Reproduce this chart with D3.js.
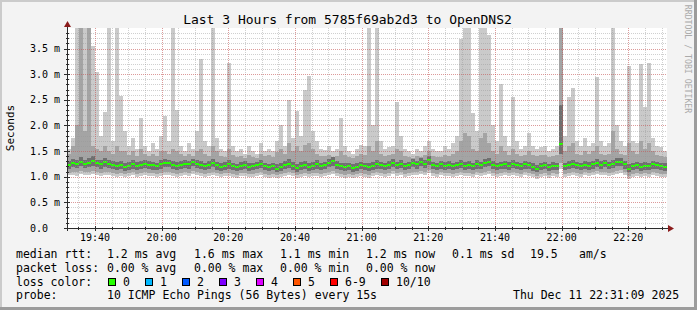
<!DOCTYPE html>
<html>
<head>
<meta charset="utf-8">
<script src="https://cdn.jsdelivr.net/npm/d3@7/dist/d3.min.js"></script>
<style>
  body { margin: 0; background: #f3f3f3; }
  svg { display: block; }
  text { font-family: "DejaVu Sans Mono", monospace; }
</style>
</head>
<body>
<div class="chart"></div>
<script>
// Smoke data, one value per 72 s step, in ms (p1 = fastest ping ... pMax = slowest)
var startTime = Date.UTC(2025, 11, 11, 19, 31, 36);
var stepSeconds = 72;

var pingMax = [
  1.55, 1.75, 4.5, 4.5, 4.5, 4.5, 3.55, 3.05, 1.8, 2.26,
  4.5, 1.7, 4.5, 2.57, 1.9, 1.6, 1.75, 1.55, 2.15, 1.6,
  1.5, 1.65, 1.55, 1.8, 2.19, 1.7, 4.5, 2.3, 1.6, 1.5,
  1.65, 1.55, 1.9, 3.3, 1.7, 1.6, 4.5, 1.75, 1.55, 1.5,
  3.22, 1.6, 1.5, 1.55, 1.45, 1.6, 1.5, 1.45, 1.65, 1.5,
  1.55, 1.5, 1.7, 2.0, 1.6, 2.5, 1.75, 2.29, 1.8, 2.7,
  2.96, 1.9, 1.7, 1.55, 1.52, 1.6, 1.5, 1.55, 2.15, 1.6,
  1.5, 1.45, 1.55, 1.62, 1.6, 4.5, 2.0, 4.5, 1.7, 1.55,
  1.58, 1.6, 2.46, 1.8, 1.55, 1.5, 1.45, 1.55, 1.5, 1.6,
  1.7, 1.55, 1.5, 1.5, 1.6, 1.55, 1.65, 1.8, 3.68, 4.5,
  4.5, 2.25, 1.9, 4.5, 4.5, 3.76, 2.0, 1.7, 2.8, 1.8,
  1.6, 2.56, 1.7, 1.55, 1.6, 1.85, 1.6, 1.55, 1.58, 1.6,
  1.5, 1.55, 1.6, 4.5, 1.8, 2.56, 2.73, 1.7, 1.6, 1.75,
  1.6, 1.65, 2.95, 1.7, 1.6, 1.65, 4.5, 2.0, 1.7, 1.6,
  3.16, 1.7, 1.65, 3.19, 2.35, 3.22, 1.75, 1.6, 1.58, 1.5
];
var pingHigh = [
  1.45, 1.6, 2.0, 4.5, 1.9, 4.5, 1.6, 1.55, 1.5, 1.6,
  1.5, 1.45, 1.6, 1.5, 1.5, 1.42, 1.5, 1.4, 1.55, 1.45,
  1.4, 1.45, 1.4, 1.5, 1.5, 1.45, 1.55, 1.5, 1.45, 1.4,
  1.45, 1.4, 1.5, 1.55, 1.45, 1.4, 1.6, 1.5, 1.4, 1.38,
  1.55, 1.42, 1.38, 1.4, 1.36, 1.42, 1.38, 1.36, 1.45, 1.4,
  1.42, 1.38, 1.48, 1.55, 1.45, 1.65, 1.5, 1.6, 1.5, 1.62,
  1.65, 1.55, 1.45, 1.4, 1.4, 1.42, 1.38, 1.4, 1.5, 1.42,
  1.38, 1.36, 1.4, 1.45, 1.42, 1.6, 1.5, 1.7, 1.45, 1.4,
  1.42, 1.45, 1.55, 1.5, 1.4, 1.38, 1.36, 1.4, 1.38, 1.42,
  1.5, 1.4, 1.38, 1.38, 1.42, 1.4, 1.45, 1.5, 1.7, 1.85,
  1.8, 1.55, 1.5, 1.75, 1.85, 1.65, 1.5, 1.45, 1.6, 1.5,
  1.42, 1.55, 1.45, 1.4, 1.42, 1.5, 1.42, 1.4, 1.42, 1.42,
  1.38, 1.4, 1.42, 4.5, 1.5, 1.6, 1.65, 1.45, 1.42, 1.5,
  1.45, 1.5, 1.6, 1.45, 1.42, 1.45, 1.9, 1.55, 1.45, 1.42,
  1.65, 1.5, 1.45, 1.7, 1.55, 1.65, 1.5, 1.42, 1.4, 1.38
];
var pingMidHigh = [
  1.3, 1.34, 1.33, 1.38, 1.32, 1.36, 1.4, 1.33, 1.32, 1.36,
  1.33, 1.3, 1.28, 1.3, 1.27, 1.29, 1.32, 1.28, 1.31, 1.33,
  1.3, 1.29, 1.27, 1.32, 1.35, 1.33, 1.3, 1.28, 1.3, 1.32,
  1.31, 1.35, 1.33, 1.3, 1.27, 1.3, 1.34, 1.29, 1.26, 1.28,
  1.32, 1.27, 1.25, 1.28, 1.3, 1.26, 1.27, 1.29, 1.32, 1.27,
  1.25, 1.27, 1.24, 1.27, 1.3, 1.34, 1.29, 1.25, 1.28, 1.31,
  1.27, 1.29, 1.32, 1.27, 1.29, 1.34, 1.38, 1.3, 1.27, 1.26,
  1.27, 1.25, 1.26, 1.29, 1.27, 1.26, 1.28, 1.32, 1.29, 1.27,
  1.3, 1.35, 1.29, 1.33, 1.27, 1.29, 1.34, 1.31, 1.36, 1.32,
  1.4, 1.29, 1.27, 1.31, 1.28, 1.3, 1.27, 1.29, 1.33, 1.29,
  1.31, 1.27, 1.32, 1.29, 1.34, 1.37, 1.3, 1.27, 1.29, 1.31,
  1.28, 1.32, 1.29, 1.27, 1.31, 1.29, 1.26, 1.23, 1.27, 1.29,
  1.25, 1.28, 1.27, 2.4, 1.27, 1.3, 1.33, 1.29, 1.27, 1.3,
  1.28, 1.31, 1.35, 1.3, 1.33, 1.29, 1.33, 1.36, 1.37, 1.31,
  1.24, 1.27, 1.29, 1.27, 1.28, 1.27, 1.31, 1.29, 1.27, 1.26
];
var medianRtt = [
  1.22, 1.26, 1.24, 1.28, 1.25, 1.27, 1.3, 1.26, 1.24, 1.28,
  1.25, 1.23, 1.2, 1.22, 1.19, 1.21, 1.24, 1.2, 1.22, 1.25,
  1.23, 1.22, 1.2, 1.24, 1.27, 1.26, 1.22, 1.2, 1.23, 1.25,
  1.24, 1.28, 1.25, 1.22, 1.2, 1.23, 1.26, 1.22, 1.19, 1.21,
  1.24, 1.2, 1.18, 1.21, 1.23, 1.19, 1.2, 1.22, 1.25, 1.2,
  1.18, 1.2, 1.16, 1.19, 1.22, 1.25, 1.21, 1.17, 1.2, 1.23,
  1.19, 1.21, 1.24, 1.2, 1.22, 1.26, 1.3, 1.23, 1.2, 1.18,
  1.2, 1.17, 1.19, 1.22, 1.2, 1.18, 1.21, 1.24, 1.22, 1.2,
  1.23, 1.27, 1.22, 1.25, 1.2, 1.22, 1.26, 1.24, 1.28, 1.25,
  1.32, 1.22, 1.2, 1.24, 1.21, 1.23, 1.2, 1.22, 1.25, 1.21,
  1.23, 1.2, 1.24, 1.22, 1.26, 1.29, 1.23, 1.2, 1.22, 1.24,
  1.21, 1.25, 1.22, 1.2, 1.24, 1.22, 1.19, 1.15, 1.2, 1.22,
  1.18, 1.21, 1.2, 1.64, 1.2, 1.22, 1.25, 1.22, 1.2, 1.23,
  1.21, 1.24, 1.27, 1.23, 1.26, 1.22, 1.25, 1.28, 1.29, 1.24,
  1.15, 1.2, 1.22, 1.19, 1.21, 1.2, 1.24, 1.22, 1.2, 1.19
];
var pingMidLow = [
  1.15, 1.18, 1.17, 1.2, 1.17, 1.19, 1.21, 1.18, 1.16, 1.19,
  1.17, 1.15, 1.13, 1.15, 1.12, 1.14, 1.16, 1.13, 1.15, 1.17,
  1.15, 1.14, 1.13, 1.16, 1.19, 1.18, 1.15, 1.13, 1.15, 1.17,
  1.16, 1.2, 1.17, 1.15, 1.13, 1.15, 1.18, 1.14, 1.12, 1.14,
  1.16, 1.13, 1.11, 1.14, 1.15, 1.12, 1.13, 1.15, 1.17, 1.13,
  1.11, 1.13, 1.1, 1.12, 1.15, 1.17, 1.14, 1.1, 1.13, 1.15,
  1.12, 1.14, 1.16, 1.13, 1.15, 1.18, 1.21, 1.15, 1.13, 1.11,
  1.13, 1.1, 1.12, 1.15, 1.13, 1.11, 1.14, 1.16, 1.15, 1.13,
  1.15, 1.19, 1.15, 1.17, 1.13, 1.15, 1.18, 1.16, 1.2, 1.17,
  1.22, 1.15, 1.13, 1.16, 1.14, 1.15, 1.13, 1.15, 1.17, 1.14,
  1.15, 1.13, 1.16, 1.15, 1.18, 1.2, 1.15, 1.13, 1.15, 1.16,
  1.14, 1.17, 1.15, 1.13, 1.16, 1.15, 1.12, 1.09, 1.13, 1.15,
  1.11, 1.14, 1.13, 1.45, 1.13, 1.15, 1.17, 1.15, 1.13, 1.16,
  1.14, 1.16, 1.19, 1.16, 1.18, 1.15, 1.17, 1.2, 1.21, 1.16,
  1.09, 1.13, 1.15, 1.12, 1.14, 1.13, 1.16, 1.15, 1.13, 1.12
];
var pingLow = [
  1.08, 1.1, 1.09, 1.11, 1.09, 1.1, 1.12, 1.1, 1.08, 1.1,
  1.09, 1.07, 1.06, 1.08, 1.05, 1.07, 1.09, 1.06, 1.08, 1.09,
  1.08, 1.07, 1.06, 1.08, 1.1, 1.1, 1.08, 1.06, 1.08, 1.09,
  1.08, 1.11, 1.09, 1.08, 1.06, 1.08, 1.1, 1.07, 1.05, 1.07,
  1.08, 1.06, 1.04, 1.07, 1.08, 1.05, 1.06, 1.08, 1.09, 1.06,
  1.04, 1.06, 1.03, 1.05, 1.08, 1.09, 1.07, 1.03, 1.06, 1.08,
  1.05, 1.07, 1.08, 1.06, 1.08, 1.1, 1.12, 1.08, 1.06, 1.04,
  1.06, 1.03, 1.05, 1.08, 1.06, 1.04, 1.07, 1.09, 1.08, 1.06,
  1.08, 1.11, 1.08, 1.1, 1.06, 1.08, 1.1, 1.09, 1.12, 1.1,
  1.13, 1.08, 1.06, 1.09, 1.07, 1.08, 1.06, 1.08, 1.1, 1.07,
  1.08, 1.06, 1.09, 1.08, 1.1, 1.12, 1.08, 1.06, 1.08, 1.09,
  1.07, 1.1, 1.08, 1.06, 1.09, 1.08, 1.05, 1.02, 1.06, 1.08,
  1.04, 1.07, 1.06, 1.26, 1.06, 1.08, 1.1, 1.08, 1.06, 1.09,
  1.07, 1.09, 1.11, 1.09, 1.1, 1.08, 1.1, 1.12, 1.13, 1.09,
  1.02, 1.06, 1.08, 1.05, 1.07, 1.06, 1.09, 1.08, 1.06, 1.05
];
var pingMin = [
  1.03, 1.04, 1.02, 1.05, 1.03, 1.04, 1.06, 1.04, 1.02, 1.04,
  1.03, 1.01, 1.0, 1.02, 0.99, 1.01, 1.03, 1.0, 1.02, 1.03,
  1.02, 1.01, 1.0, 1.02, 1.04, 1.04, 1.02, 1.0, 1.02, 1.03,
  1.02, 1.05, 1.03, 1.02, 1.0, 1.02, 1.04, 1.01, 0.99, 1.01,
  1.02, 1.0, 0.98, 1.01, 1.02, 0.99, 1.0, 1.02, 1.03, 1.0,
  0.98, 1.0, 0.97, 0.99, 1.02, 1.03, 1.01, 0.97, 1.0, 1.02,
  0.99, 1.01, 1.02, 1.0, 1.02, 1.04, 1.06, 1.02, 1.0, 0.98,
  1.0, 0.97, 0.99, 1.02, 1.0, 0.98, 1.01, 1.03, 1.02, 1.0,
  1.02, 1.05, 1.02, 1.04, 1.0, 1.02, 1.04, 1.03, 1.06, 1.04,
  1.07, 1.02, 1.0, 1.03, 1.01, 1.02, 1.0, 1.02, 1.04, 1.01,
  1.02, 1.0, 1.03, 1.02, 1.04, 1.06, 1.02, 1.0, 1.02, 1.03,
  1.01, 1.04, 1.02, 1.0, 1.03, 1.02, 0.99, 0.96, 1.0, 1.02,
  0.98, 1.01, 1.0, 1.15, 1.0, 1.02, 1.04, 1.02, 1.0, 1.03,
  1.01, 1.03, 1.05, 1.03, 1.04, 1.02, 1.04, 1.06, 1.07, 1.03,
  0.96, 1.0, 1.02, 0.99, 1.01, 1.0, 1.03, 1.02, 1.0, 0.99
];

// Legend content
var titleText = "Last 3 Hours from 5785f69ab2d3 to OpenDNS2";
var rttStats = ["1.2 ms avg", "1.6 ms max", "1.1 ms min", "1.2 ms now", "0.1 ms sd", "19.5", "am/s"];
var lossStats = ["0.00 % avg", "0.00 % max", "0.00 % min", "0.00 % now"];
var lossLabels = ["0", "1", "2", "3", "4", "5", "6-9", "10/10"];
var lossColors = ["#26ff00", "#00b8ff", "#0059ff", "#7e00ff", "#dd00ff", "#ff5500", "#ff0000", "#a10000"];
var probeText = "10 ICMP Echo Pings (56 Bytes) every 15s";
var stampText = "Thu Dec 11 22:31:09 2025";

// Set up chart
var svgWidth = 697;
var svgHeight = 310;
var plot = {left: 67, right: 667, top: 28, bottom: 228};

var svg = d3.select(".chart")
  .append("svg")
  .attr("width", svgWidth)
  .attr("height", svgHeight);

// frame
svg.append("rect").attr("width", svgWidth).attr("height", svgHeight).attr("fill", "#f3f3f3");
svg.append("rect").attr("x", 0).attr("y", 0).attr("width", svgWidth).attr("height", 2).attr("fill", "#cbcbcb");
svg.append("rect").attr("x", 0).attr("y", 0).attr("width", 2).attr("height", svgHeight).attr("fill", "#cbcbcb");
svg.append("rect").attr("x", 0).attr("y", svgHeight - 3).attr("width", svgWidth).attr("height", 3).attr("fill", "#9c9c9c");
svg.append("rect").attr("x", svgWidth - 3).attr("y", 0).attr("width", 3).attr("height", svgHeight).attr("fill", "#9c9c9c");

// canvas
svg.append("rect")
  .attr("x", plot.left).attr("y", plot.top)
  .attr("width", plot.right - plot.left).attr("height", plot.bottom - plot.top)
  .attr("fill", "#ffffff");

svg.append("clipPath").attr("id", "clip")
  .append("rect")
  .attr("x", plot.left).attr("y", plot.top)
  .attr("width", plot.right - plot.left).attr("height", plot.bottom - plot.top);

// scales
var x = d3.scaleUtc()
  .domain([new Date(startTime), new Date(startTime + medianRtt.length * stepSeconds * 1000)])
  .range([plot.left, plot.right]);
var y = d3.scaleLinear().domain([0, 3.9]).range([plot.bottom, plot.top]);

var steps = medianRtt.map(function(d, i) {
  return {
    t0: new Date(startTime + i * stepSeconds * 1000),
    t1: new Date(startTime + (i + 1) * stepSeconds * 1000),
    min: pingMin[i], low: pingLow[i], midLow: pingMidLow[i], median: d,
    midHigh: pingMidHigh[i], high: pingHigh[i], max: pingMax[i]
  };
});

var smoke = svg.append("g").attr("clip-path", "url(#clip)").attr("shape-rendering", "crispEdges");

// smoke bands, light outside to dark inside
var bands = [
  {lo: "min", hi: "max", color: "#cacaca"},
  {lo: "low", hi: "high", color: "#a4a4a4"},
  {lo: "midLow", hi: "midHigh", color: "#707070"}
];
bands.forEach(function(b) {
  smoke.append("g").selectAll("rect")
    .data(steps)
    .enter()
    .append("rect")
    .attr("x", function(d) { return Math.round(x(d.t0)); })
    .attr("width", function(d) { return Math.round(x(d.t1)) - Math.round(x(d.t0)); })
    .attr("y", function(d) { return y(d[b.hi]); })
    .attr("height", function(d) { return y(d[b.lo]) - y(d[b.hi]); })
    .attr("fill", b.color);
});

// median as short green bars
smoke.append("g").selectAll("rect")
  .data(steps)
  .enter()
  .append("rect")
  .attr("x", function(d) { return Math.round(x(d.t0)); })
  .attr("width", function(d) { return Math.round(x(d.t1)) - Math.round(x(d.t0)); })
  .attr("y", function(d) { return Math.round(y(d.median)) - 1; })
  .attr("height", 2)
  .attr("fill", lossColors[0]);

// grid on top of the data, like rrdtool
var grid = svg.append("g").attr("shape-rendering", "crispEdges");
var minorX = x.ticks(d3.utcMinute.every(5));
var majorX = x.ticks(d3.utcMinute.every(20));
var minorY = d3.range(0, 39).map(function(k) { return k / 10; });
var majorY = y.ticks(8);

grid.selectAll(".vminor").data(minorX).enter().append("line")
  .attr("x1", function(d) { return Math.round(x(d)) + 0.5; })
  .attr("x2", function(d) { return Math.round(x(d)) + 0.5; })
  .attr("y1", plot.top).attr("y2", plot.bottom)
  .attr("stroke", "rgba(150,150,150,0.45)").attr("stroke-dasharray", "1,1");
grid.selectAll(".hminor").data(minorY).enter().append("line")
  .attr("y1", function(d) { return Math.round(y(d)) + 0.5; })
  .attr("y2", function(d) { return Math.round(y(d)) + 0.5; })
  .attr("x1", plot.left).attr("x2", plot.right)
  .attr("stroke", "rgba(150,150,150,0.45)").attr("stroke-dasharray", "1,1");
grid.selectAll(".vmajor").data(majorX).enter().append("line")
  .attr("x1", function(d) { return Math.round(x(d)) + 0.5; })
  .attr("x2", function(d) { return Math.round(x(d)) + 0.5; })
  .attr("y1", plot.top).attr("y2", plot.bottom)
  .attr("stroke", "rgba(255,0,0,0.26)").attr("stroke-dasharray", "1,1");
grid.selectAll(".hmajor").data(majorY).enter().append("line")
  .attr("y1", function(d) { return Math.round(y(d)) + 0.5; })
  .attr("y2", function(d) { return Math.round(y(d)) + 0.5; })
  .attr("x1", plot.left).attr("x2", plot.right)
  .attr("stroke", "rgba(255,0,0,0.26)").attr("stroke-dasharray", "1,1");

// axes
var axisColor = "#2c2c2c";
var arrowColor = "#8b1c1c";
var axes = svg.append("g").attr("shape-rendering", "crispEdges");
axes.append("line").attr("x1", plot.left - 3).attr("x2", plot.right + 3)
  .attr("y1", plot.bottom + 0.5).attr("y2", plot.bottom + 0.5).attr("stroke", axisColor);
axes.append("line").attr("x1", plot.left + 0.5).attr("x2", plot.left + 0.5)
  .attr("y1", plot.bottom + 3).attr("y2", plot.top - 3).attr("stroke", axisColor);

axes.selectAll(".xt").data(minorX).enter().append("line")
  .attr("x1", function(d) { return Math.round(x(d)) + 0.5; })
  .attr("x2", function(d) { return Math.round(x(d)) + 0.5; })
  .attr("y1", plot.bottom - 1).attr("y2", plot.bottom + 2).attr("stroke", axisColor);
axes.selectAll(".xT").data(majorX).enter().append("line")
  .attr("x1", function(d) { return Math.round(x(d)) + 0.5; })
  .attr("x2", function(d) { return Math.round(x(d)) + 0.5; })
  .attr("y1", plot.bottom - 2).attr("y2", plot.bottom + 3).attr("stroke", axisColor);
axes.selectAll(".yt").data(minorY).enter().append("line")
  .attr("y1", function(d) { return Math.round(y(d)) + 0.5; })
  .attr("y2", function(d) { return Math.round(y(d)) + 0.5; })
  .attr("x1", plot.left - 1).attr("x2", plot.left + 2).attr("stroke", axisColor);
axes.selectAll(".yT").data(majorY).enter().append("line")
  .attr("y1", function(d) { return Math.round(y(d)) + 0.5; })
  .attr("y2", function(d) { return Math.round(y(d)) + 0.5; })
  .attr("x1", plot.left - 3).attr("x2", plot.left + 3).attr("stroke", axisColor);

// arrows
svg.append("path")
  .attr("d", "M" + (plot.left + 0.5) + "," + (plot.top - 7) + " L" + (plot.left - 3) + "," + (plot.top - 1) + " L" + (plot.left + 4) + "," + (plot.top - 1) + "Z")
  .attr("fill", arrowColor);
svg.append("path")
  .attr("d", "M" + (plot.right + 7) + "," + (plot.bottom + 0.5) + " L" + (plot.right + 1) + "," + (plot.bottom - 3) + " L" + (plot.right + 1) + "," + (plot.bottom + 4) + "Z")
  .attr("fill", arrowColor);

// tick labels
var timeFmt = d3.utcFormat("%H:%M");
svg.append("g").selectAll("text").data(majorX).enter().append("text")
  .attr("x", function(d) { return x(d); })
  .attr("y", 241)
  .attr("text-anchor", "middle")
  .style("font-size", "10px")
  .attr("fill", "#000")
  .text(function(d) { return timeFmt(d); });

svg.append("g").selectAll("text").data(majorY).enter().append("text")
  .attr("x", 30)
  .attr("y", function(d) { return y(d) + 3.6; })
  .style("font-size", "10px")
  .attr("fill", "#000")
  .text(function(d) { return d === 0 ? "0.0" : d.toFixed(1) + " m"; });

// titles
svg.append("text")
  .attr("x", 347.5).attr("y", 24)
  .attr("text-anchor", "middle")
  .style("font-size", "13px")
  .attr("fill", "#000")
  .text(titleText);

svg.append("text")
  .attr("transform", "translate(14,128) rotate(-90)")
  .attr("text-anchor", "middle")
  .style("font-size", "11px")
  .attr("fill", "#000")
  .text("Seconds");

svg.append("text")
  .attr("transform", "translate(685,59) rotate(90)")
  .attr("text-anchor", "middle")
  .style("font-size", "8.2px")
  .attr("fill", "#aaaaaa")
  .text("RRDTOOL / TOBI OETIKER");

// legend
var legend = svg.append("g").style("font-size", "11.5px").attr("fill", "#000");
var colX = [107, 194, 280, 366, 452, 530, 579];

legend.append("text").attr("x", 16).attr("y", 258).text("median rtt:");
legend.selectAll(".rtt").data(rttStats).enter().append("text")
  .attr("x", function(d, i) { return colX[i]; }).attr("y", 258)
  .text(function(d) { return d; });

legend.append("text").attr("x", 16).attr("y", 272).text("packet loss:");
legend.selectAll(".loss").data(lossStats).enter().append("text")
  .attr("x", function(d, i) { return colX[i]; }).attr("y", 272)
  .text(function(d) { return d; });

legend.append("text").attr("x", 16).attr("y", 286).text("loss color:");
var sx = 108;
lossLabels.forEach(function(label, i) {
  legend.append("rect")
    .attr("x", sx + 0.5).attr("y", 278.5)
    .attr("width", 7).attr("height", 7)
    .attr("fill", lossColors[i])
    .attr("stroke", "#000");
  legend.append("text").attr("x", sx + 15).attr("y", 286).text(label);
  sx = sx + 15 + label.length * 7 + 15;
});

legend.append("text").attr("x", 16).attr("y", 299).text("probe:");
legend.append("text").attr("x", 107).attr("y", 299).text(probeText);
legend.append("text").attr("x", 513).attr("y", 299).text(stampText);
</script>
</body>
</html>
